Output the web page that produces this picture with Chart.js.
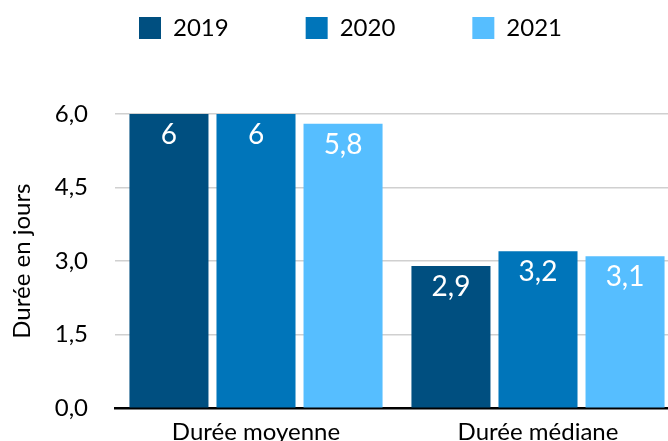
<!DOCTYPE html>
<html>
<head>
<meta charset="utf-8">
<script src="https://cdn.jsdelivr.net/npm/chart.js@4.4.0/dist/chart.umd.min.js"></script>
<style>
html,body{margin:0;padding:0;background:#fff;overflow:hidden;}
#wrap{width:702px;height:457px;}
</style>
</head>
<body>
<div id="wrap"><canvas id="c" width="702" height="457"></canvas></div>
<script>
const categories = ["Durée moyenne", "Durée médiane"];
const seriesNames = ["2019", "2020", "2021"];
const values2019 = [6, 2.9];
const values2020 = [6, 3.2];
const values2021 = [5.8, 3.1];
const seriesColors = ["#004F80", "#0075BA", "#56BEFF"];
const yTicks = [0, 1.5, 3, 4.5, 6];
const yTitle = "Durée en jours";

const FONT = "Lato, 'Open Sans', sans-serif";
const fmt = v => String(v).replace('.', ',');

const valueLabels = {
  id: 'valueLabels',
  afterDatasetsDraw(chart) {
    const ctx = chart.ctx;
    ctx.save();
    ctx.fillStyle = '#fff';
    ctx.font = '28px ' + FONT;
    ctx.textAlign = 'center';
    ctx.textBaseline = 'alphabetic';
    chart.data.datasets.forEach((ds, i) => {
      const meta = chart.getDatasetMeta(i);
      meta.data.forEach((bar, j) => {
        ctx.fillText(fmt(ds.data[j]), bar.x, bar.y + 30);
      });
    });
    ctx.restore();
  }
};

const legendShift = {
  id: 'legendShift',
  afterLayout(chart) {
    const lg = chart.legend;
    if (lg) {
      lg.top -= 64; lg.bottom -= 64;
      lg.left += 11; lg.right += 11;
    }
  }
};

const allSeries = [values2019, values2020, values2021];
new Chart(document.getElementById('c'), {
  type: 'bar',
  data: {
    labels: categories,
    datasets: allSeries.map((d, i) => ({
      label: seriesNames[i],
      data: d,
      backgroundColor: seriesColors[i],
      borderWidth: 0,
      categoryPercentage: 0.926,
      barPercentage: 0.908
    }))
  },
  options: {
    responsive: false,
    animation: false,
    layout: { padding: { left: 0, right: 23, top: 3, bottom: 0 } },
    plugins: {
      legend: {
        position: 'top',
        labels: {
          boxWidth: 22, boxHeight: 22,
          padding: 77,
          color: '#000',
          font: { family: FONT, size: 24 }
        }
      },
      tooltip: { enabled: false }
    },
    scales: {
      x: {
        grid: { display: false, drawTicks: false },
        border: { display: true, color: '#000', width: 2.5 },
        ticks: { color: '#000', font: { family: FONT, size: 24 }, padding: 10 }
      },
      y: {
        min: 0, max: 6,
        afterBuildTicks: s => { s.ticks = yTicks.map(v => ({ value: v })); },
        afterFit: s => { s.width = 115; },
        grid: { color: '#D0D0D0', lineWidth: 1.5, drawTicks: false },
        border: { display: false },
        ticks: {
          color: '#000', padding: 27,
          font: { family: FONT, size: 24 },
          callback: v => v.toFixed(1).replace('.', ',')
        },
        title: { display: true, text: yTitle, color: '#000', font: { family: FONT, size: 24 }, padding: { top: 8, bottom: 18 } }
      }
    }
  },
  plugins: [valueLabels, legendShift]
});
</script>
</body>
</html>
